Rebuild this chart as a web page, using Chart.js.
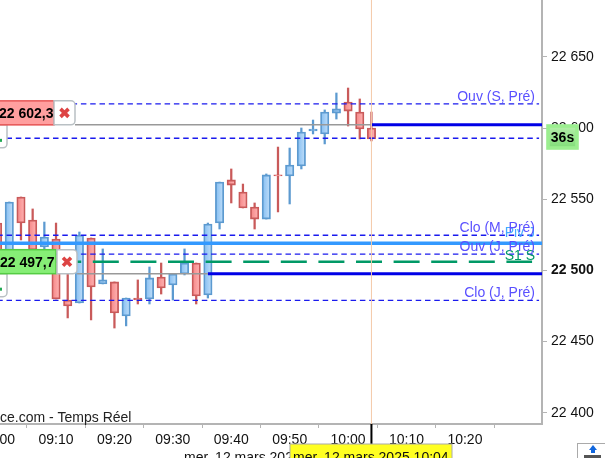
<!DOCTYPE html>
<html>
<head>
<meta charset="utf-8">
<title>Chandeliers 12 mars 2025</title>
<script src="https://cdn.jsdelivr.net/npm/chart.js@4"></script>
<style>
    html, body { margin: 0; padding: 0; background: #fff; overflow: hidden; width: 605px; height: 458px; }
    /* the chart runs off the left edge, like the original screenshot */
    #chart { position: absolute; left: -40px; top: 0; }
</style>
</head>
<body>
<canvas id="chart" width="645" height="458"></canvas>
<script>
// ========================================
// DATA (time = minutes since midnight)
// ========================================
const times  = [540, 542, 544, 546, 548, 550, 552, 554, 556, 558, 560, 562, 564, 566, 568, 570, 572, 574, 576, 578, 580, 582, 584, 586, 588, 590, 592, 594, 596, 598, 600, 602, 604];
const opens  = [22533.3, 22510.8, 22551.6, 22535.4, 22516.5, 22522.1, 22479.2, 22477.1, 22522.8, 22490.5, 22491.9, 22468.0, 22480.6, 22479.9, 22495.4, 22489.8, 22497.5, 22505.2, 22482.7, 22533.3, 22563.6, 22555.1, 22544.6, 22536.1, 22567.1, 22566.4, 22573.4, 22598.0, 22595.9, 22610.6, 22618.4, 22611.3, 22600.1];
const highs  = [22533.3, 22548.1, 22551.6, 22543.2, 22534.0, 22533.3, 22498.9, 22527.0, 22522.8, 22515.1, 22491.9, 22480.6, 22493.3, 22502.4, 22505.2, 22497.5, 22515.1, 22505.2, 22533.3, 22562.1, 22571.3, 22560.7, 22547.4, 22567.8, 22586.7, 22586.0, 22600.1, 22605.7, 22612.8, 22624.7, 22628.2, 22620.5, 22611.3];
const lows   = [22510.8, 22510.8, 22521.4, 22514.4, 22513.7, 22479.9, 22466.6, 22477.1, 22465.2, 22490.5, 22459.5, 22461.0, 22476.4, 22476.4, 22483.4, 22479.2, 22496.8, 22476.4, 22480.6, 22529.1, 22547.4, 22543.9, 22529.1, 22536.1, 22541.1, 22546.7, 22571.3, 22595.9, 22588.9, 22606.4, 22601.5, 22592.4, 22591.0];
const closes = [22510.8, 22548.1, 22533.3, 22514.4, 22523.5, 22479.9, 22475.0, 22524.9, 22488.4, 22493.3, 22470.1, 22480.6, 22479.2, 22494.7, 22487.7, 22497.5, 22505.2, 22482.0, 22532.6, 22562.1, 22560.0, 22543.9, 22536.1, 22567.1, 22566.4, 22574.1, 22597.3, 22599.4, 22611.3, 22613.5, 22612.0, 22599.4, 22592.4];

const yTicks = [22400, 22450, 22500, 22550, 22600, 22650];
const yTickLabels = ['22 400', '22 450', '22 500', '22 550', '22 600', '22 650'];
const xTicks = [540, 550, 560, 570, 580, 590, 600, 610, 620, 630];
const xTickLabels = ['09:00', '09:10', '09:20', '09:30', '09:40', '09:50', '10:00', '10:10', '10:20', ''];

// horizontal levels
const dashedNames  = ['Ouv (S, Pré)', '', 'Clo (M, Pré)', 'Ouv (J, Pré)', 'Clo (J, Pré)'];
const dashedValues = [22617, 22592.9, 22524.7, 22511.5, 22479];
const pivotValue = 22519.1;
const s1Value = 22506.1;
const orderHigh = 22602.3;
const orderLow = 22497.7;
const cursorTime = 604;
const lowOrderStart = 576;

// ========================================
// SCALE LIMITS
// ========================================
const X_MIN = 533.56, X_MAX = 633.2;
const Y_MIN = 22392.05, Y_MAX = 22690.06;
const SHIFT = 40; // canvas hidden off the left side

function hLine(value, from, to, color, width, dash) {
    return {
        type: 'line',
        data: [{ x: from, y: value }, { x: to, y: value }],
        borderColor: color,
        borderWidth: width,
        borderDash: dash || [],
        pointRadius: 0,
        order: 1
    };
}

const isUp = i => closes[i] >= opens[i];

function bodyFill(context) {
    const i = context.dataIndex;
    if (i === undefined) return '#a0cdf5';
    const px = context.chart.scales.x.getPixelForValue(times[i]);
    if (!Number.isFinite(px)) return '#a0cdf5';
    const g = context.chart.ctx.createLinearGradient(px - 4, 0, px + 4, 0);
    if (isUp(i)) {
        g.addColorStop(0, '#84bef2');
        g.addColorStop(1, '#c0def9');
    } else {
        g.addColorStop(0, '#f58686');
        g.addColorStop(1, '#ffb4b4');
    }
    return g;
}

function noPadding(scale) {
    scale.paddingTop = 0;
    scale.paddingBottom = 0;
    scale.paddingLeft = 0;
    scale.paddingRight = 0;
}

// ========================================
// OVERLAYS
// ========================================
function closeBox(ctx, x, y, w, h) {
    ctx.fillStyle = '#fff';
    ctx.strokeStyle = '#b9c0c4';
    ctx.lineWidth = 1.5;
    ctx.beginPath();
    ctx.roundRect(x, y, w, h, [0, 4, 4, 0]);
    ctx.fill();
    ctx.stroke();
    const cx = x + w / 2, cy = y + h / 2;
    ctx.strokeStyle = '#dd4444';
    ctx.lineWidth = 3.6;
    ctx.beginPath();
    ctx.moveTo(cx - 4, cy - 4); ctx.lineTo(cx + 4, cy + 4);
    ctx.moveTo(cx + 4, cy - 4); ctx.lineTo(cx - 4, cy + 4);
    ctx.stroke();
}

function smallTab(ctx, y) {
    ctx.fillStyle = '#fff';
    ctx.strokeStyle = '#b9c0c4';
    ctx.lineWidth = 1.5;
    ctx.beginPath();
    ctx.roundRect(-10, y, 17, 23, [0, 0, 4, 0]);
    ctx.fill();
    ctx.stroke();
    ctx.fillStyle = '#22aa55';
    ctx.fillRect(0, y + 14, 2, 3);
}

const overlays = {
    id: 'overlays',
    afterDraw(chart) {
        const ctx = chart.ctx, x = chart.scales.x, y = chart.scales.y;
        ctx.save();
        ctx.translate(SHIFT, 0);
        ctx.textBaseline = 'alphabetic';

        // level captions
        ctx.font = '14px "Liberation Sans"';
        ctx.textAlign = 'right';
        ctx.fillStyle = '#44aaff';
        ctx.fillText('Piv J', 535, y.getPixelForValue(pivotValue) - 6);
        ctx.fillStyle = '#009966';
        ctx.fillText('S1 S', 535, y.getPixelForValue(s1Value) - 2);
        ctx.fillStyle = '#5a50ff';
        dashedNames.forEach((name, i) => {
            if (name) ctx.fillText(name, 535, y.getPixelForValue(dashedValues[i]) - 3);
        });

        // footer caption
        ctx.textAlign = 'left';
        ctx.fillStyle = '#222';
        ctx.fillText('ce.com - Temps Réel', 0, 422);

        // order tags
        const hi = y.getPixelForValue(orderHigh), lo = y.getPixelForValue(orderLow);
        smallTab(ctx, hi);
        ctx.fillStyle = '#ff9f9f';
        ctx.strokeStyle = '#e65555';
        ctx.lineWidth = 1.5;
        ctx.fillRect(-10, hi - 24, 64, 24);
        ctx.strokeRect(-10, hi - 24, 64, 24);
        closeBox(ctx, 54, hi - 24, 21, 24);
        ctx.fillStyle = '#000';
        ctx.font = 'bold 14px "Liberation Sans"';
        ctx.fillText('22 602,3', -1, hi - 7);

        smallTab(ctx, lo);
        ctx.fillStyle = '#86ee76';
        ctx.strokeStyle = '#55cc44';
        ctx.lineWidth = 1.5;
        ctx.fillRect(-10, lo - 24, 66, 24);
        ctx.strokeRect(-10, lo - 24, 66, 24);
        closeBox(ctx, 57, lo - 24, 20, 24);
        ctx.fillStyle = '#000';
        ctx.fillText('22 497,7', 0, lo - 7);

        // countdown
        const g = ctx.createLinearGradient(0, 126, 0, 148);
        g.addColorStop(0, '#b5eeaa');
        g.addColorStop(1, '#80dd78');
        ctx.fillStyle = g;
        ctx.strokeStyle = '#9bee8f';
        ctx.fillRect(548, 126, 29, 22);
        ctx.strokeRect(548, 126, 29, 22);
        ctx.fillStyle = '#000';
        ctx.textAlign = 'center';
        ctx.fillText('36s', 562.5, 142);

        // cursor tick and date labels
        const cx = x.getPixelForValue(cursorTime) - SHIFT;
        ctx.fillStyle = '#000';
        ctx.fillRect(cx - 1, 424, 2, 20);
        ctx.textAlign = 'left';
        ctx.font = '14px "Liberation Sans"';
        ctx.fillStyle = '#111';
        ctx.fillText('mer. 12 mars 2025', 184, 462);
        ctx.fillStyle = '#ffff22';
        ctx.fillRect(290, 444, 162, 14);
        ctx.strokeStyle = '#aaa';
        ctx.lineWidth = 1;
        ctx.strokeRect(290, 444, 162, 16);
        ctx.fillStyle = '#111';
        ctx.fillText('mer. 12 mars 2025 10:04', 293, 462);

        // small button, bottom right
        ctx.fillStyle = '#fff';
        ctx.strokeStyle = '#aaa';
        ctx.fillRect(577, 443, 30, 17);
        ctx.strokeRect(577.5, 443.5, 30, 17);
        ctx.fillStyle = '#1166dd';
        ctx.beginPath();
        ctx.moveTo(593, 445); ctx.lineTo(597, 450); ctx.lineTo(589, 450);
        ctx.fill();
        ctx.fillRect(591, 450, 4, 3);
        ctx.fillStyle = '#555';
        ctx.fillRect(584, 455, 17, 3);
        ctx.restore();
    }
};

// ========================================
// CHART
// ========================================
new Chart(document.getElementById('chart').getContext('2d'), {
    type: 'bar',
    data: {
        datasets: [
            hLine(orderHigh, 553.25, cursorTime, '#999999', 1.5),
            hLine(orderHigh, cursorTime, X_MAX, '#0000e6', 3),
            hLine(orderLow, 553.6, lowOrderStart, '#999999', 1.5),
            hLine(orderLow, lowOrderStart, X_MAX, '#0000e6', 3),
            hLine(pivotValue, X_MIN, X_MAX, '#3399ff', 3.5),
            hLine(s1Value, 549.86, 631.5, '#009966', 2.4, [26, 11.6]),
            ...dashedValues.map(v => hLine(v, X_MIN, 632.7, '#1a1aee', 1.3, [5.5, 3.8])),
            {
                type: 'line',
                data: [{ x: cursorTime, y: Y_MIN }, { x: cursorTime, y: Y_MAX }],
                borderColor: '#f4c9a8',
                borderWidth: 1,
                pointRadius: 0,
                order: 0
            },
            {
                // wicks
                data: times.map((t, i) => ({ x: t, y: [lows[i], highs[i]] })),
                backgroundColor: times.map((t, i) => isUp(i) ? '#5c9ad0' : '#c95a5a'),
                barThickness: 1.6,
                grouped: false,
                order: 6
            },
            {
                // bodies
                data: times.map((t, i) => ({ x: t, y: [Math.min(opens[i], closes[i]), Math.max(opens[i], closes[i])] })),
                backgroundColor: bodyFill,
                borderColor: times.map((t, i) => isUp(i) ? '#5c9ad0' : '#c95a5a'),
                borderWidth: 1.8,
                borderSkipped: false,
                barThickness: 8.4,
                grouped: false,
                order: 5
            }
        ]
    },
    options: {
        responsive: false,
        animation: false,
        layout: { padding: 0 },
        plugins: { legend: { display: false }, tooltip: { enabled: false } },
        scales: {
            x: {
                type: 'linear',
                offset: false,
                min: X_MIN,
                max: X_MAX,
                afterBuildTicks: scale => { scale.ticks = xTicks.map(v => ({ value: v })); },
                afterFit: scale => { scale.height = 34; noPadding(scale); },
                border: { color: '#b4b4b4', width: 2 },
                grid: { drawOnChartArea: false, tickLength: 4, tickColor: '#b4b4b4' },
                ticks: {
                    autoSkip: false,
                    maxRotation: 0,
                    padding: 4,
                    color: '#111',
                    font: { family: '"Liberation Sans"', size: 14 },
                    callback: v => xTickLabels[xTicks.indexOf(v)]
                }
            },
            y: {
                position: 'right',
                min: Y_MIN,
                max: Y_MAX,
                afterBuildTicks: scale => { scale.ticks = yTicks.map(v => ({ value: v })); },
                afterFit: scale => { scale.width = 63; noPadding(scale); },
                border: { color: '#b4b4b4', width: 2 },
                grid: { drawOnChartArea: false, tickLength: 5, tickColor: '#b4b4b4' },
                ticks: {
                    padding: 4,
                    color: '#111',
                    font: ctx => ({
                        family: '"Liberation Sans"',
                        size: 14,
                        weight: ctx.tick && ctx.tick.value === 22500 ? 'bold' : 'normal'
                    }),
                    callback: v => yTickLabels[yTicks.indexOf(v)]
                }
            }
        }
    },
    plugins: [overlays]
});
</script>
</body>
</html>
